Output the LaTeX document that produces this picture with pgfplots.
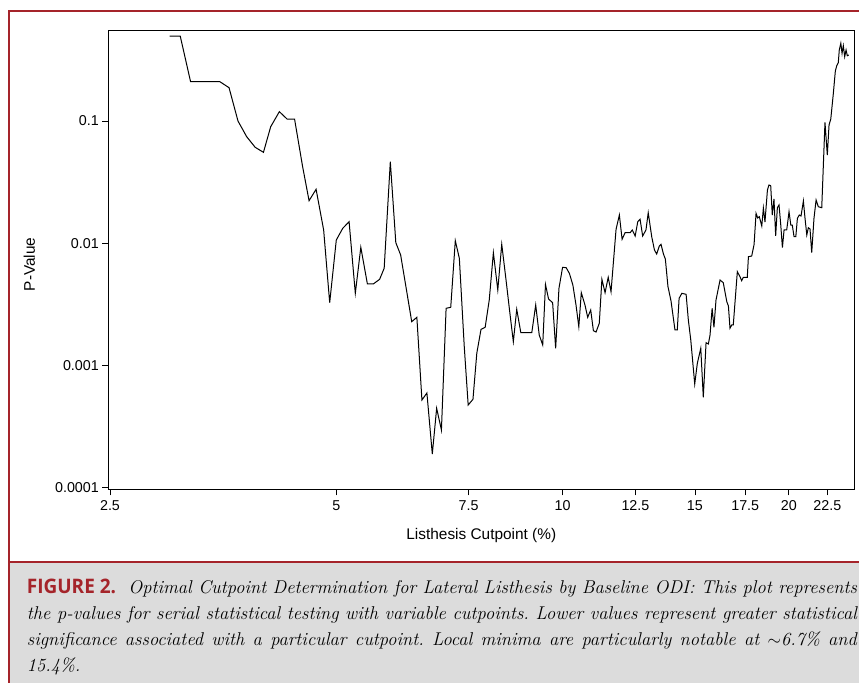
\documentclass[border=0pt]{standalone}
\usepackage{fontspec}
\usepackage{pgfplots}
\pgfplotsset{compat=1.18}
\newfontfamily\arial{Liberation Sans}
\newfontfamily\figfont[FakeStretch=0.95]{Open Sans}
\definecolor{figred}{HTML}{A5242A}
\definecolor{capgray}{HTML}{DCDCDC}
\begin{document}
\begin{tikzpicture}[x=1bp,y=1bp]
\path[use as bounding box] (0,0) rectangle (859,683);
\fill[capgray] (9,0) rectangle (859,121);
\draw[figred, line width=2bp] (9,0) -- (9,672) -- (859,672);
\draw[figred, line width=2bp] (9,121) -- (859,121);
\begin{axis}[
  at={(108.3bp,193.7bp)}, anchor=south west,
  width=746bp, height=459bp, scale only axis,
  xmode=log, ymode=log,
  xmin=2.487, xmax=24.44, ymin=9.685e-5, ymax=0.5524,
  xtick={2.5,5,7.5,10,12.5,15,17.5,20,22.5},
  xticklabels={2.5,5,7.5,10,12.5,15,17.5,20,22.5},
  ytick={0.0001,0.001,0.01,0.1},
  yticklabels={0.0001,0.001,0.01,0.1},
  xminorticks=false, yminorticks=false,
  tick align=outside, tick pos=left,
  major tick length=6bp,
  every tick/.style={black, line width=0.8bp},
  axis line style={line width=0.8bp},
  ticklabel style={font=\arial\fontsize{14.3bp}{16bp}\selectfont},
  xticklabel style={yshift=-2bp},
  xlabel={Listhesis Cutpoint (\%)},
  ylabel={P-Value},
  label style={font=\arial\fontsize{15.4bp}{17bp}\selectfont},
  xlabel style={at={(axis description cs:0.5,-0.1089)}, anchor=base},
  ylabel style={at={(axis description cs:-0.0983,0.49)}, anchor=base, rotate=0},
]
\addplot[black, line width=1bp] table {
x p
3.00 0.496
3.10 0.496
3.20 0.2098
3.50 0.2098
3.60 0.1873
3.70 0.1000
3.80 0.07438
3.90 0.06091
4.00 0.05543
4.09 0.08981
4.20 0.1192
4.30 0.1038
4.40 0.1038
4.51 0.04227
4.60 0.02227
4.70 0.02761
4.81 0.01283
4.90 0.003259
5.00 0.01062
5.10 0.01324
5.20 0.01499
5.30 0.003890
5.39 0.009257
5.50 0.004636
5.60 0.004636
5.71 0.005064
5.79 0.006231
5.90 0.04645
6.00 0.01010
6.09 0.008008
6.30 0.002279
6.40 0.002475
6.50 0.0005209
6.60 0.0005944
6.71 0.0001883
6.80 0.0004456
6.90 0.0002960
7.00 0.002933
7.10 0.002989
7.20 0.01048
7.29 0.007523
7.40 0.001422
7.49 0.0004740
7.60 0.0005278
7.69 0.001256
7.79 0.001974
7.89 0.002050
7.99 0.003429
8.09 0.008362
8.20 0.004140
8.30 0.009795
8.41 0.004998
8.50 0.002841
8.60 0.001563
8.69 0.002878
8.80 0.001852
9.10 0.001852
9.21 0.003121
9.31 0.001773
9.41 0.001469
9.49 0.004593
9.58 0.003494
9.70 0.003259
9.79 0.001380
9.89 0.004275
10.00 0.006349
10.11 0.006301
10.21 0.005672
10.32 0.004550
10.42 0.003121
10.51 0.002074
10.59 0.003934
10.71 0.003121
10.80 0.002475
10.90 0.002841
10.99 0.001923
11.08 0.001876
11.19 0.002211
11.28 0.005064
11.39 0.003934
11.50 0.005259
11.60 0.004009
11.78 0.01299
11.90 0.01701
12.00 0.01076
12.11 0.01218
12.30 0.01218
12.38 0.01283
12.49 0.01145
12.59 0.01499
12.68 0.01569
12.78 0.01145
12.91 0.01283
13.00 0.01776
13.14 0.01130
13.25 0.008798
13.34 0.008160
13.45 0.009487
13.52 0.009795
13.62 0.008160
13.70 0.007425
13.81 0.004422
13.94 0.003365
14.11 0.001949
14.21 0.001949
14.29 0.003540
14.41 0.003890
14.60 0.003817
14.70 0.002353
14.81 0.001614
14.99 0.0007043
15.11 0.001040
15.27 0.001380
15.39 0.0005481
15.52 0.001534
15.63 0.001497
15.71 0.001773
15.81 0.002933
15.90 0.002050
16.00 0.003429
16.20 0.004998
16.36 0.004751
16.54 0.003321
16.62 0.003063
16.70 0.002012
16.79 0.002141
16.87 0.002141
17.08 0.005845
17.22 0.005319
17.31 0.004932
17.40 0.005259
17.61 0.005259
17.67 0.007755
17.85 0.007858
17.98 0.009758
18.09 0.01756
18.18 0.01608
18.27 0.01648
18.41 0.01382
18.50 0.01941
18.59 0.01491
18.73 0.02725
18.82 0.02995
18.92 0.02955
19.01 0.01701
19.11 0.02299
19.21 0.01151
19.31 0.01952
19.41 0.02055
19.51 0.01428
19.61 0.009187
19.71 0.01283
19.87 0.01283
20.01 0.01810
20.12 0.01409
20.21 0.01409
20.32 0.01130
20.43 0.01130
20.53 0.01598
20.65 0.01701
20.76 0.01670
20.91 0.02215
21.02 0.01578
21.13 0.01167
21.23 0.01339
21.34 0.01307
21.45 0.008362
21.60 0.01598
21.74 0.02257
21.89 0.01989
22.12 0.01952
22.34 0.09758
22.50 0.05268
22.62 0.09275
22.74 0.1038
22.92 0.1685
23.06 0.2566
23.16 0.2835
23.27 0.3000
23.34 0.3811
23.45 0.4323
23.54 0.3581
23.63 0.4132
23.73 0.3358
23.83 0.3811
23.92 0.3422
24.03 0.3467
};
\end{axis}
\node[anchor=base west, inner sep=0pt] at (26.7,89) {\parbox[t]{830bp}{%
\frenchspacing\fontsize{18.5bp}{25.8bp}\selectfont\itshape\baselineskip=25.8bp
\hbox to 830bp{{\figfont\bfseries\upshape\fontsize{20bp}{25bp}\selectfont\color{figred}FIGURE 2.}\hspace{6bp} Optimal Cutpoint Determination for Lateral Listhesis by Baseline ODI: This plot represents}
\hbox to 830bp{the p-values for serial statistical testing with variable cutpoints. Lower values represent greater statistical}
\hbox to 830bp{significance associated with a particular cutpoint. Local minima are particularly notable at $\sim$6.7\% and}
\hbox{15.4\%.}}};
\end{tikzpicture}
\end{document}
